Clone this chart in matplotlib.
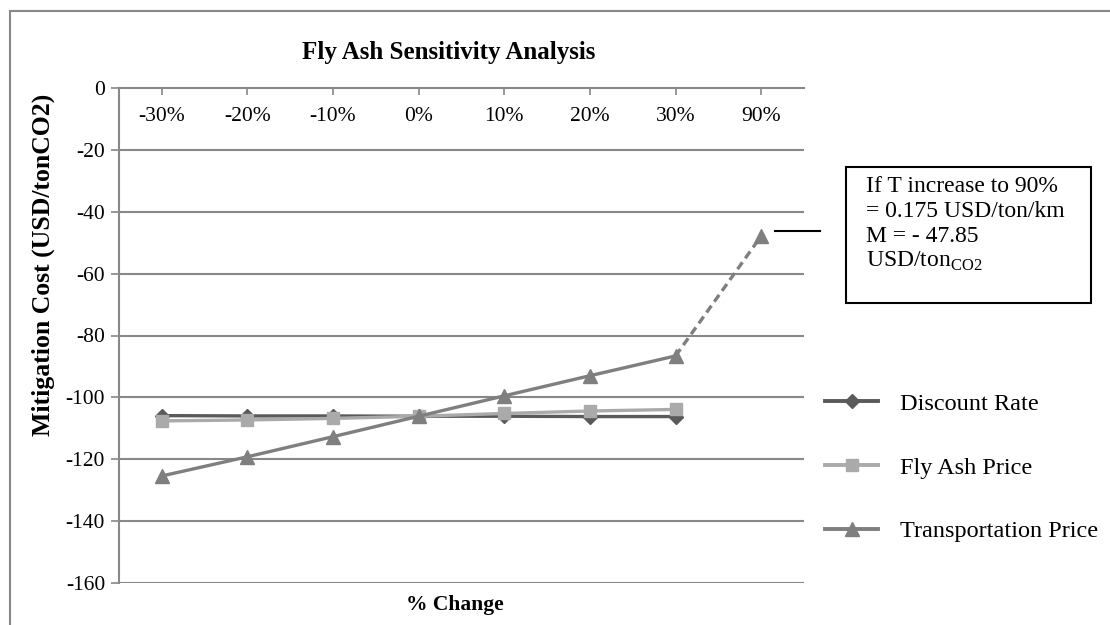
import matplotlib
matplotlib.use("Agg")
import matplotlib.pyplot as plt
from matplotlib.lines import Line2D
from matplotlib.patches import Rectangle

plt.rcParams['font.family'] = ['Liberation Serif', 'DejaVu Serif']
plt.rcParams['mathtext.fontset'] = 'custom'
plt.rcParams['mathtext.rm'] = 'Liberation Serif'
plt.rcParams['axes.unicode_minus'] = False

# data
categories = ["-30%", "-20%", "-10%", "0%", "10%", "20%", "30%", "90%"]
discount_rate = [-105.9, -106.0, -106.0, -106.1, -106.1, -106.2, -106.2]
fly_ash_price = [-107.6, -107.3, -106.8, -106.1, -105.2, -104.4, -103.9]
transport_price = [-125.4, -119.2, -112.7, -106.1, -99.5, -93.0, -86.6, -47.85]

W, H = 1110, 625
fig = plt.figure(figsize=(W / 100, H / 100), dpi=100)


def fx(px):
    return px / W


def fy(py):
    return 1 - py / H


ax = fig.add_axes([fx(119), fy(583), fx(804) - fx(119), fy(88) - fy(583)])

grid_c = "#888888"
dr_c = "#5a5a5a"
fa_c = "#aaaaaa"
tp_c = "#7f7f7f"

x = list(range(len(categories)))
n = len(discount_rate)

ax.plot(x[:n], discount_rate, color=dr_c, lw=2.4, marker='D', ms=7, zorder=3)
ax.plot(x[:n], fly_ash_price, color=fa_c, lw=2.4, marker='s', ms=8.5, zorder=4)
ax.plot(x[:n], transport_price[:n], color=tp_c, lw=2.4, marker='^', ms=9.5, zorder=5)
# extrapolated 90% point
ax.plot(x[n - 1:], transport_price[n - 1:], color=tp_c, lw=2.4, ls=(0, (2.5, 1.5)),
        marker='^', ms=9.5, markevery=[1], zorder=5)

ax.set_xlim(-0.5, len(categories) - 0.5)
ax.set_ylim(-160, 0)
ax.set_yticks(range(-160, 1, 20))
ax.set_xticks(x)
ax.set_xticklabels(categories)

for v in range(-160, 0, 20):
    ax.axhline(v, color=grid_c, lw=1.5, zorder=1)

for s in ['top', 'right']:
    ax.spines[s].set_visible(False)
ax.spines['bottom'].set_position(('data', 0))
ax.spines['bottom'].set_color(grid_c)
ax.spines['bottom'].set_linewidth(1.5)
ax.spines['left'].set_color(grid_c)
ax.spines['left'].set_linewidth(1.5)
ax.tick_params(axis='x', direction='out', length=5, width=1.2, color=grid_c,
               labelsize=15.5, pad=9)
ax.tick_params(axis='y', direction='out', length=6, width=1.2, color=grid_c,
               labelsize=15.5, pad=4)

# titles
fig.text(fx(449), fy(52), "Fly Ash Sensitivity Analysis", fontsize=18,
         fontweight='bold', ha='center', va='center')
fig.text(fx(43), fy(265), "Mitigation Cost (USD/tonCO2)", fontsize=18.5,
         fontweight='bold', rotation=90, ha='center', va='center')
fig.text(fx(455), fy(605), "% Change", fontsize=15.5, fontweight='bold',
         ha='center', va='center')

# legend
handles = [
    Line2D([], [], color=dr_c, lw=2.8, marker='D', ms=7),
    Line2D([], [], color=fa_c, lw=2.8, marker='s', ms=8.5),
    Line2D([], [], color=tp_c, lw=2.8, marker='^', ms=9.5),
]
fig.legend(handles, ["Discount Rate", "Fly Ash Price", "Transportation Price"],
           loc='center left', bbox_to_anchor=(fx(825), fy(467.5)), frameon=False,
           fontsize=17.5, handlelength=2.2, handletextpad=0.9, labelspacing=1.72,
           borderpad=0, borderaxespad=0)

# callout for the 90% case
fig.add_artist(Line2D([fx(775), fx(820)], [fy(231), fy(231)], color='black', lw=1.5))
fig.add_artist(Rectangle((fx(846), fy(303)), fx(1091) - fx(846), fy(167) - fy(303),
                         transform=fig.transFigure, fill=False, ec='black', lw=1.5))
note = ["If T increase to 90%", "= 0.175 USD/ton/km", "M = - 47.85",
        r"USD/ton$_\mathregular{CO2}$"]
for i, line in enumerate(note):
    fig.text(fx(866), fy(187 + i * 24.7), line, fontsize=17, ha='left', va='center')

# chart area border
fig.add_artist(Rectangle((fx(10), fy(660)), fx(1140) - fx(10), fy(11) - fy(660),
                         transform=fig.transFigure, fill=False, ec=grid_c, lw=1.5))

fig.savefig("out.png", dpi=100)
